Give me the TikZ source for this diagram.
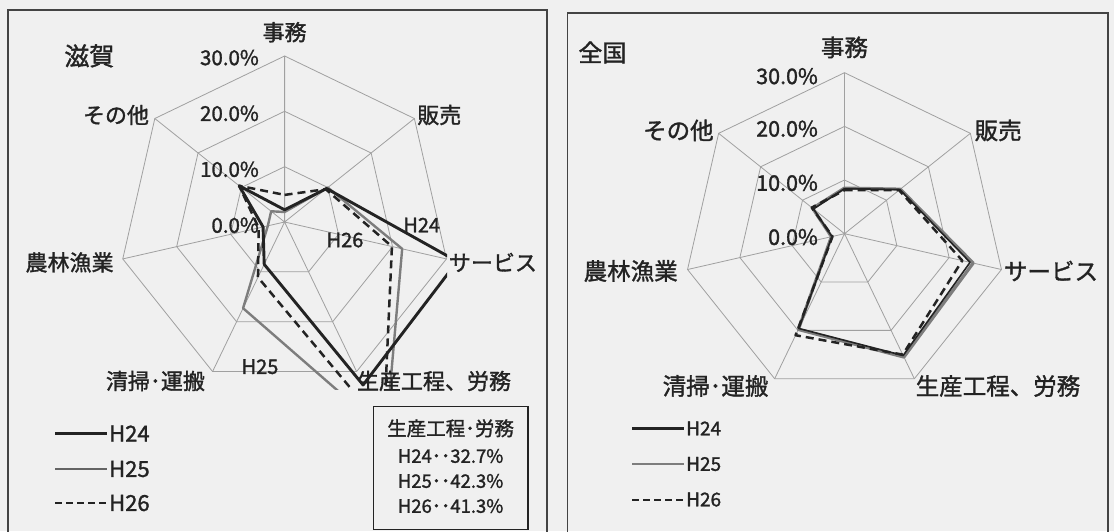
\documentclass[tikz,border=0pt]{standalone}
\usepackage{fontspec}
\setmainfont{Noto Sans CJK JP}[FakeBold=1.4]
\definecolor{bgpaper}{RGB}{240,240,240}
\definecolor{gridgray}{RGB}{160,160,160}
\definecolor{inkdark}{RGB}{35,35,35}
\definecolor{midgray}{RGB}{125,125,125}
\tikzset{
  radargrid/.style={gridgray, line width=0.8pt},
  panel/.style={draw=inkdark!85, line width=1.4pt},
  ser24/.style={inkdark, line width=2.9pt, line join=round},
  ser25/.style={midgray, line width=2.4pt, line join=round},
  ser26/.style={inkdark, line width=2.5pt, line join=round, dash pattern=on 8pt off 5pt},
  axlab/.style={inkdark, inner sep=0pt, font=\fontsize{22}{22}\selectfont},
  axlabR/.style={inkdark, inner sep=0pt, font=\fontsize{23.5}{23.5}\selectfont},
  pctlab/.style={inkdark, inner sep=0pt, anchor=east, font=\fontsize{20.5}{20.5}\selectfont},
  pctlabR/.style={inkdark, inner sep=0pt, anchor=east, font=\fontsize{21.5}{21.5}\selectfont},
  leglab/.style={inkdark, inner sep=0pt, anchor=west, font=\fontsize{22}{22}\selectfont},
  boxlab/.style={inkdark, inner sep=0pt, font=\fontsize{18.5}{18.5}\selectfont},
}
\begin{document}
\begin{tikzpicture}[x=1pt, y=1pt]
\useasboundingbox (0,0) rectangle (1114,531);
\fill[bgpaper] (0,0) rectangle (1114,531);
\draw[panel] (8,-10) rectangle (547,521);
\draw[panel] (567.5,-10) rectangle (1108,518);

% left chart (Shiga)
\begin{scope}[shift={(284.6,309)}]
\coordinate (cL) at (0,0);
\draw[radargrid] (90:55.3) -- (38.571:55.3) -- (-12.857:55.3) -- (-64.286:55.3) -- (-115.714:55.3) -- (-167.143:55.3) -- (141.429:55.3) -- cycle;
\draw[radargrid] (90:110.7) -- (38.571:110.7) -- (-12.857:110.7) -- (-64.286:110.7) -- (-115.714:110.7) -- (-167.143:110.7) -- (141.429:110.7) -- cycle;
\draw[radargrid] (90:166) -- (38.571:166) -- (-12.857:166) -- (-64.286:166) -- (-115.714:166) -- (-167.143:166) -- (141.429:166) -- cycle;
\draw[radargrid] (cL) -- (90:166) (cL) -- (38.571:166) (cL) -- (-12.857:166) (cL) -- (-64.286:166)
  (cL) -- (-115.714:166) (cL) -- (-167.143:166) (cL) -- (141.429:166);
\coordinate (L24-0) at (90:12.2);
\coordinate (L24-1) at (38.571:53.7);
\coordinate (L24-2) at (-12.857:177.1);
\coordinate (L24-3) at (-64.286:180.9);
\coordinate (L24-4) at (-115.714:47.0);
\coordinate (L24-5) at (-167.143:22.1);
\coordinate (L24-6) at (141.429:58.1);
\coordinate (L25-0) at (90:10.0);
\coordinate (L25-1) at (38.571:55.3);
\coordinate (L25-2) at (-12.857:120.6);
\coordinate (L25-3) at (-64.286:234.0);
\coordinate (L25-4) at (-115.714:95.7);
\coordinate (L25-5) at (-167.143:17.2);
\coordinate (L25-6) at (141.429:17.2);
\coordinate (L26-0) at (90:27.1);
\coordinate (L26-1) at (38.571:52.6);
\coordinate (L26-2) at (-12.857:110.1);
\coordinate (L26-3) at (-64.286:228.5);
\coordinate (L26-4) at (-115.714:61.4);
\coordinate (L26-5) at (-167.143:26.6);
\coordinate (L26-6) at (141.429:58.1);
\end{scope}
\begin{scope}
\clip (100,142) rectangle (447,491);
\draw[ser25] (L25-0) -- (L25-1) -- (L25-2) -- (L25-3) -- (L25-4) -- (L25-5) -- (L25-6) -- cycle;
\draw[ser24] (L24-0) -- (L24-1) -- (L24-2) -- (L24-3) -- (L24-4) -- (L24-5) -- (L24-6) -- cycle;
\draw[ser26] (L26-0) -- (L26-1) -- (L26-2) -- (L26-3) -- (L26-4) -- (L26-5) -- (L26-6) -- cycle;
\end{scope}

\node[inkdark, inner sep=0pt, font=\fontsize{25}{25}\selectfont] (shiga) at (89.3,475.1) {滋賀};
\node[axlab] (jimuL) at (284.6,498.8) {事務};
\node[axlab] (hanbaiL) at (439.3,416) {販売};
\node[axlab] (serviceL) at (492.9,268.6) {サービス};
\node[axlab] (seisanL) at (434,150) {生産工程、労務};
\node[axlab] (seisouL) at (155.4,150) {清掃･運搬};
\node[axlab] (nourinL) at (69.6,268.6) {農林漁業};
\node[axlab] (sonotaL) at (116,416) {その他};
\node[pctlab] (p30L) at (259,473.4) {30.0\%};
\node[pctlab] (p20L) at (259,417.6) {20.0\%};
\node[pctlab] (p10L) at (259,361.7) {10.0\%};
\node[pctlab] (p00L) at (259,305.8) {0.0\%};
\node[inkdark, inner sep=0pt, font=\fontsize{20}{20}\selectfont] (tag24) at (421.7,306) {H24};
\node[inkdark, inner sep=0pt, font=\fontsize{20}{20}\selectfont] (tag26) at (345,291) {H26};
\node[inkdark, inner sep=0pt, font=\fontsize{20}{20}\selectfont] (tag25) at (260,164.3) {H25};

% legend left
\coordinate (lgL24a) at (55.4,97.5);
\coordinate (lgL24b) at (107,97.5);
\coordinate (lgL25a) at (55.4,62);
\coordinate (lgL25b) at (107,62);
\coordinate (lgL26a) at (55.4,28);
\coordinate (lgL26b) at (107,28);
\draw[inkdark, line width=2.4pt] (lgL24a) -- (lgL24b);
\draw[midgray!80!black, line width=1.6pt] (lgL25a) -- (lgL25b);
\draw[inkdark, line width=2pt, dash pattern=on 7pt off 4pt] (lgL26a) -- (lgL26b);
\node[leglab] (lgtL24) at (109,97.5) {H24};
\node[leglab] (lgtL25) at (109,62) {H25};
\node[leglab] (lgtL26) at (109,28) {H26};

% note box
\draw[inkdark, line width=1.4pt] (373.2,1.5) rectangle (528,124.6);
\node[boxlab, font=\fontsize{19.5}{19.5}\selectfont] (boxhead) at (450.6,102.7) {生産工程･労務};
\node[boxlab] (box24) at (450.6,75) {H24･･32.7\%};
\node[boxlab] (box25) at (450.6,50) {H25･･42.3\%};
\node[boxlab] (box26) at (450.6,25) {H26･･41.3\%};

% right chart (national)
\begin{scope}[shift={(844.5,297.3)}]
\coordinate (cR) at (0,0);
\draw[radargrid] (90:53.7) -- (38.571:53.7) -- (-12.857:53.7) -- (-64.286:53.7) -- (-115.714:53.7) -- (-167.143:53.7) -- (141.429:53.7) -- cycle;
\draw[radargrid] (90:107.3) -- (38.571:107.3) -- (-12.857:107.3) -- (-64.286:107.3) -- (-115.714:107.3) -- (-167.143:107.3) -- (141.429:107.3) -- cycle;
\draw[radargrid] (90:161) -- (38.571:161) -- (-12.857:161) -- (-64.286:161) -- (-115.714:161) -- (-167.143:161) -- (141.429:161) -- cycle;
\draw[radargrid] (cR) -- (90:161) (cR) -- (38.571:161) (cR) -- (-12.857:161) (cR) -- (-64.286:161)
  (cR) -- (-115.714:161) (cR) -- (-167.143:161) (cR) -- (141.429:161);
\coordinate (R24-0) at (90:45.1);
\coordinate (R24-1) at (38.571:70.8);
\coordinate (R24-2) at (-12.857:128.8);
\coordinate (R24-3) at (-64.286:135.2);
\coordinate (R24-4) at (-115.714:105.2);
\coordinate (R24-5) at (-167.143:12.9);
\coordinate (R24-6) at (141.429:39.7);
\coordinate (R25-0) at (90:45.6);
\coordinate (R25-1) at (38.571:71.4);
\coordinate (R25-2) at (-12.857:132.0);
\coordinate (R25-3) at (-64.286:136.9);
\coordinate (R25-4) at (-115.714:106.3);
\coordinate (R25-5) at (-167.143:13.4);
\coordinate (R25-6) at (141.429:40.8);
\coordinate (R26-0) at (90:43.5);
\coordinate (R26-1) at (38.571:69.8);
\coordinate (R26-2) at (-12.857:120.8);
\coordinate (R26-3) at (-64.286:134.2);
\coordinate (R26-4) at (-115.714:112.7);
\coordinate (R26-5) at (-167.143:12.3);
\coordinate (R26-6) at (141.429:41.9);
\draw[ser25, line width=3.2pt] (R25-0) -- (R25-1) -- (R25-2) -- (R25-3) -- (R25-4) -- (R25-5) -- (R25-6) -- cycle;
\draw[ser24, line width=1.6pt] (R24-0) -- (R24-1) -- (R24-2) -- (R24-3) -- (R24-4) -- (R24-5) -- (R24-6) -- cycle;
\draw[ser26] (R26-0) -- (R26-1) -- (R26-2) -- (R26-3) -- (R26-4) -- (R26-5) -- (R26-6) -- cycle;
\end{scope}

\node[inkdark, inner sep=0pt, font=\fontsize{24}{24}\selectfont] (zenkoku) at (602.4,478.5) {全国};
\node[axlabR] (jimuR) at (844.5,483.6) {事務};
\node[axlabR] (hanbaiR) at (998.2,400.6) {販売};
\node[axlabR] (serviceR) at (1051,260) {サービス};
\node[axlabR] (seisanR) at (998,145) {生産工程、労務};
\node[axlabR] (seisouR) at (715.5,145) {清掃･運搬};
\node[axlabR] (nourinR) at (630.7,260) {農林漁業};
\node[axlabR] (sonotaR) at (678.4,400.6) {その他};
\node[pctlabR] (p30R) at (818,454.8) {30.0\%};
\node[pctlabR] (p20R) at (818,402.3) {20.0\%};
\node[pctlabR] (p10R) at (818,348.1) {10.0\%};
\node[pctlabR] (p00R) at (818,294) {0.0\%};

% legend right
\coordinate (lgR24a) at (632.4,102.6);
\coordinate (lgR24b) at (683.7,102.6);
\coordinate (lgR25a) at (632.4,67);
\coordinate (lgR25b) at (683.7,67);
\coordinate (lgR26a) at (632.4,31.5);
\coordinate (lgR26b) at (683.7,31.5);
\draw[inkdark, line width=2.4pt] (lgR24a) -- (lgR24b);
\draw[midgray, line width=2.4pt] (lgR25a) -- (lgR25b);
\draw[inkdark, line width=2pt, dash pattern=on 7pt off 4pt] (lgR26a) -- (lgR26b);
\node[leglab, font=\fontsize{19}{19}\selectfont] (lgtR24) at (686,102.6) {H24};
\node[leglab, font=\fontsize{19}{19}\selectfont] (lgtR25) at (686,67) {H25};
\node[leglab, font=\fontsize{19}{19}\selectfont] (lgtR26) at (686,31.5) {H26};
\end{tikzpicture}
\end{document}
